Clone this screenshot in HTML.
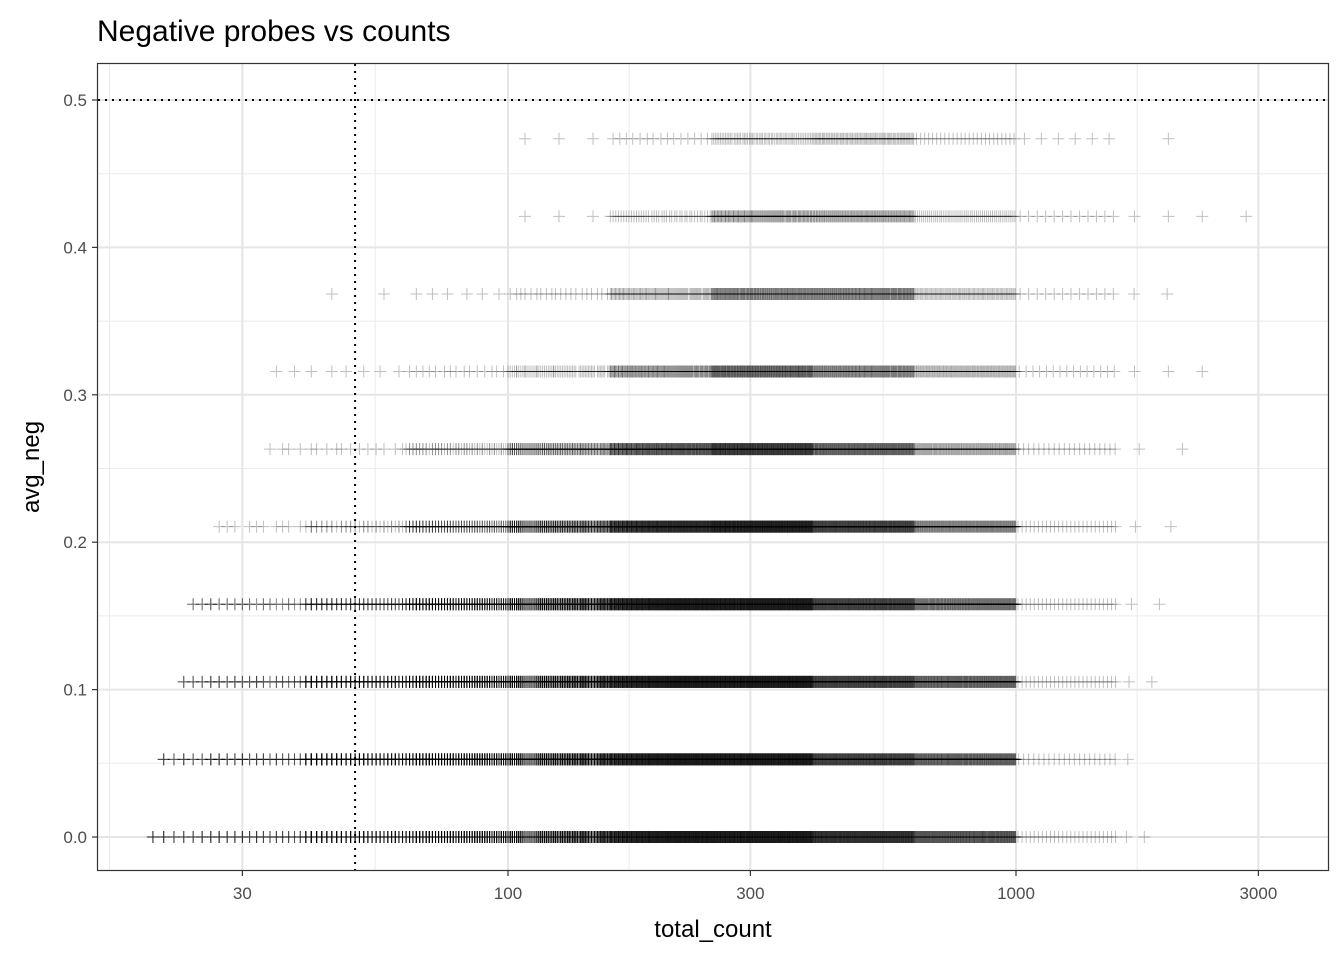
<!DOCTYPE html>
<html><head><meta charset="utf-8"><style>
body{margin:0;background:#fff;}
svg{display:block;font-family:"Liberation Sans",sans-serif;}
</style></head><body>
<svg id="chart" width="1344" height="960">
<rect width="1344" height="960" fill="#fff"/>
<text x="97" y="41" font-size="30" fill="#000">Negative probes vs counts</text>
<g id="grid"></g>
<g id="marks"></g>
<g id="refs"></g>
<rect x="97.5" y="63.5" width="1231" height="807" fill="none" stroke="#333" stroke-width="1.2"/>
<g id="axes"></g>
<text x="713" y="937" font-size="24" text-anchor="middle">total_count</text>
<text transform="translate(39,467) rotate(-90)" font-size="24" text-anchor="middle">avg_neg</text>
</svg>
<script>
const xTicks=[30,100,300,1000,3000];
const xTickLabels=["30","100","300","1000","3000"];
const yTicks=[0,0.1,0.2,0.3,0.4,0.5];
const yTickLabels=["0.0","0.1","0.2","0.3","0.4","0.5"];
const rowLevels=[0,1/19,2/19,3/19,4/19,5/19,6/19,7/19,8/19,9/19];
const binEdgesLog=[1.2,1.4,1.6,1.8,2.0,2.2,2.4,2.6,2.8,3.0,3.2,3.4,3.6];
const rowMinLog=[1.29,1.31,1.354,1.374,1.423,1.528,1.528,1.61,1.96,1.91];
const rowMaxLog=[3.27,3.24,3.29,3.31,3.34,3.37,3.44,3.33,3.506,3.40];
const rowCounts=[
[30,80,300,500,700,800,800,600,400,25,2,0],
[20,70,300,500,700,800,800,500,350,20,1,0],
[10,60,250,450,700,800,800,500,350,25,2,0],
[5,40,120,350,650,800,800,500,300,25,2,0],
[0,10,40,150,400,650,750,500,250,25,2,0],
[0,4,12,60,200,400,550,350,150,20,2,0],
[0,2,6,15,60,200,350,250,120,15,3,0],
[0,0,2,6,20,100,250,250,80,12,2,0],
[0,0,0,0,3,40,150,150,50,12,3,1],
[0,0,0,0,3,15,60,80,25,6,1,0]];
const refX=50, refY=0.5;
const NS="http://www.w3.org/2000/svg";
function X(v){return 508+(Math.log10(v)-2)*508;}
function Y(v){return 837-v*1474;}
function mk(t,a,p){const e=document.createElementNS(NS,t);for(const k in a)e.setAttribute(k,a[k]);p.appendChild(e);return e;}
const grid=document.getElementById('grid'),marks=document.getElementById('marks'),axes=document.getElementById('axes'),refs=document.getElementById('refs');
for(let i=0;i<yTicks.length-1;i++){const y=Y((yTicks[i]+yTicks[i+1])/2);
 const l=mk('line',{x1:98,x2:1328,y1:y,y2:y,stroke:'#ebebeb','stroke-width':1},grid);
 }
for(let i=0;i<xTicks.length;i++){const prev=i==0?xTicks[0]/(xTicks[1]/xTicks[0]):xTicks[i-1];
 const x=(X(prev)+X(xTicks[i]))/2;
 const l=mk('line',{x1:x,x2:x,y1:64,y2:870,stroke:'#ebebeb','stroke-width':1},grid);
 }
yTicks.forEach((v,i)=>{const y=Y(v);
 const l=mk('line',{x1:98,x2:1328,y1:y,y2:y,stroke:'#e5e5e5','stroke-width':2},grid);
 
 const t=mk('line',{x1:92,x2:97,y1:y,y2:y,stroke:'#333','stroke-width':1.2},axes);
 
 const tx=mk('text',{x:87,y:y+6,'font-size':17,'text-anchor':'end',fill:'#4d4d4d'},axes);tx.textContent=yTickLabels[i];
 });
xTicks.forEach((v,i)=>{const x=X(v);
 const l=mk('line',{x1:x,x2:x,y1:64,y2:870,stroke:'#e5e5e5','stroke-width':2},grid);
 
 const t=mk('line',{x1:x,x2:x,y1:871,y2:876,stroke:'#333','stroke-width':1.2},axes);
 
 const tx=mk('text',{x:x,y:899,'font-size':17,'text-anchor':'middle',fill:'#4d4d4d'},axes);tx.textContent=xTickLabels[i];
 });
rowLevels.forEach((lv,r)=>{const y=Y(lv);
 rowCounts[r].forEach((n,b)=>{if(!n)return;
  const lo=Math.max(binEdgesLog[b],rowMinLog[r]),hi=Math.min(binEdgesLog[b+1],rowMaxLog[r]);
  if(hi<lo)return;
  for(let j=0;j<n;j++){const l=lo+(hi-lo)*(j+0.5)/n;
   const count=Math.round(Math.pow(10,l));
   const x=X(count);
   const p=mk('path',{d:`M${x-6},${y}h12M${x},${y-6}v12`,stroke:'#000','stroke-width':1,'stroke-opacity':0.25,fill:'none'},marks);
   
   }
 });
});
const vx=X(refX);
const v=mk('line',{x1:vx,x2:vx,y1:64,y2:870,stroke:'#000','stroke-width':2,'stroke-dasharray':'2,5'},refs);

const hy=Y(refY);
const h=mk('line',{x1:98,x2:1328,y1:hy,y2:hy,stroke:'#000','stroke-width':2,'stroke-dasharray':'2,5'},refs);

</script>
</body></html>
